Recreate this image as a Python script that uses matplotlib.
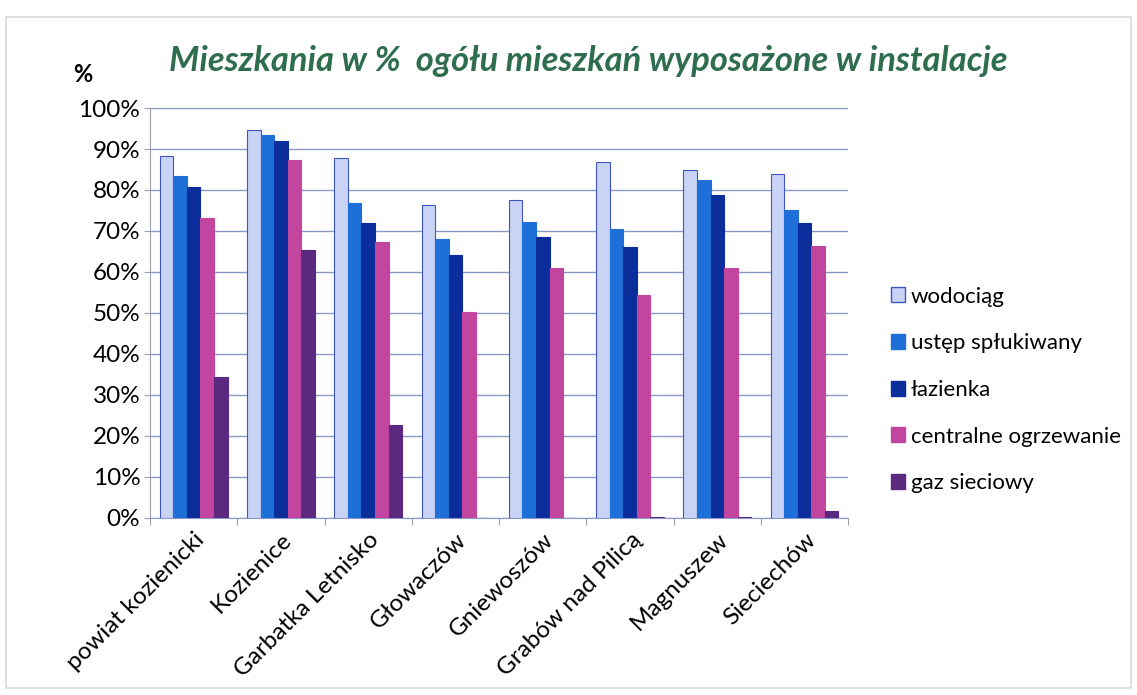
import matplotlib.pyplot as plt
import numpy as np
from matplotlib.ticker import PercentFormatter
from matplotlib.patches import Patch

categories = ["powiat kozienicki", "Kozienice", "Garbatka Letnisko", "Głowaczów",
              "Gniewoszów", "Grabów nad Pilicą", "Magnuszew", "Sieciechów"]
series_names = ["wodociąg", "ustęp spłukiwany", "łazienka", "centralne ogrzewanie", "gaz sieciowy"]
wodociag = [88.3, 94.6, 87.8, 76.3, 77.6, 86.8, 84.9, 83.9]
ustep = [83.4, 93.4, 76.8, 68.0, 72.2, 70.5, 82.4, 75.1]
lazienka = [80.7, 92.0, 72.0, 64.1, 68.5, 66.1, 78.7, 72.0]
co = [73.2, 87.3, 67.3, 50.2, 61.0, 54.4, 61.0, 66.4]
gaz = [34.4, 65.4, 22.7, 0.1, 0.1, 0.3, 0.2, 1.7]
series = [wodociag, ustep, lazienka, co, gaz]
colors = ["#C9D3F6", "#1E6FD8", "#0B2E9C", "#C2469F", "#5B2A80"]
edges = ["#3F55C0", "#1E6FD8", "#0B2E9C", "#C2469F", "#5B2A80"]

plt.rcParams['font.family'] = ['Lato', 'DejaVu Sans']
fig = plt.figure(figsize=(11.37, 6.95), dpi=100)
ax = fig.add_axes([0.132, 0.2547, 0.614, 0.5899])

x = np.arange(len(categories))
w = 0.155
for i, (vals, c, e) in enumerate(zip(series, colors, edges)):
    ax.bar(x + (i - 2) * w, vals, width=w, color=c, edgecolor=e, linewidth=0.8, zorder=3)

ax.set_xlim(-0.5, len(categories) - 0.5)
ax.set_ylim(0, 100)
ax.set_yticks(np.arange(0, 101, 10))
ax.yaxis.set_major_formatter(PercentFormatter(decimals=0))
ax.grid(axis='y', color='#8C98C8', linewidth=1.0, zorder=0)
for s in ['top', 'right']:
    ax.spines[s].set_visible(False)
ax.spines['left'].set_color('#9AA0B0')
ax.spines['bottom'].set_color('#8C98C8')
ax.tick_params(axis='y', labelsize=17.5, length=4, color='#9AA0B0', pad=3)
ax.set_xticks(np.arange(-0.5, len(categories), 1.0), minor=False)
ax.set_xticklabels([])
ax.set_xticks(x, minor=True)
ax.set_xticklabels(categories, minor=True, rotation=45, ha='right', rotation_mode='anchor', fontsize=17.5)
ax.tick_params(axis='x', which='minor', length=0, pad=8)
ax.tick_params(axis='x', which='major', length=5, color='#9AA0B0')

fig.text(0.064, 0.882, "%", fontsize=17, fontweight='bold')
fig.text(0.517, 0.912, "Mieszkania w %  ogółu mieszkań wyposażone w instalacje",
         fontsize=24.8, style='italic', fontweight='bold', color='#2E6E4E', ha='center', va='center')

handles = [Patch(facecolor=c, edgecolor=e, label=n) for c, e, n in zip(colors, edges, series_names)]
leg = fig.legend(handles=handles, loc='center left', bbox_to_anchor=(0.766, 0.439),
                 frameon=False, fontsize=16, handlelength=0.65, handleheight=0.65,
                 handletextpad=0.25, labelspacing=1.2)

fig.patches.append(plt.Rectangle((0.005, 0.01), 0.99, 0.965, transform=fig.transFigure,
                                 fill=False, edgecolor='#D8D8D8', linewidth=1.2))
fig.savefig("out.png", dpi=100)
